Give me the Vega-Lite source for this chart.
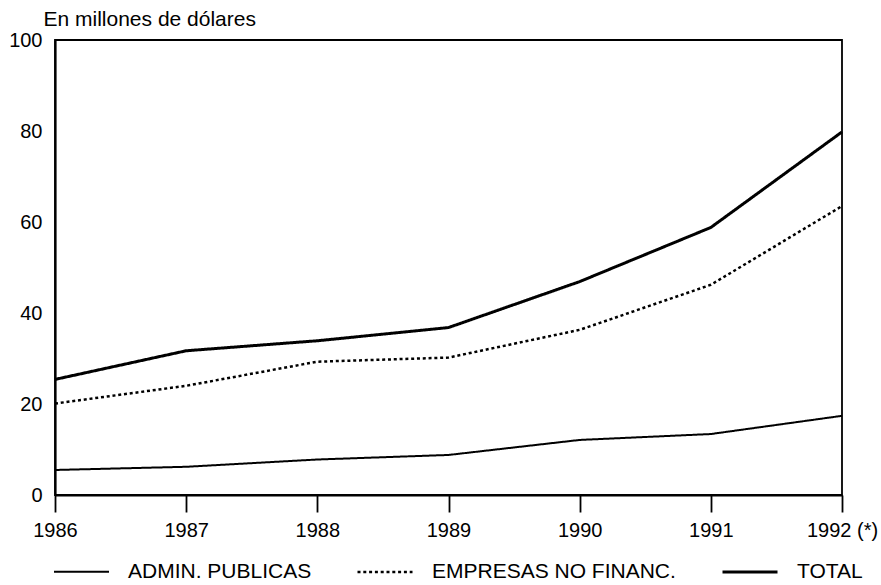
{
  "$schema": "https://vega.github.io/schema/vega-lite/v6.json",
  "width": 787,
  "height": 455,
  "autosize": {"type": "none"},
  "padding": {"left": 55, "top": 40, "right": 39, "bottom": 90},
  "background": "white",
  "config": {
    "view": {"stroke": "black", "strokeWidth": 1.8},
    "font": "Liberation Sans"
  },
  "data": {
    "values": [
      {"year": 1986, "series": "ADMIN. PUBLICAS", "value": 5.5},
      {"year": 1987, "series": "ADMIN. PUBLICAS", "value": 6.2},
      {"year": 1988, "series": "ADMIN. PUBLICAS", "value": 7.8},
      {"year": 1989, "series": "ADMIN. PUBLICAS", "value": 8.8},
      {"year": 1990, "series": "ADMIN. PUBLICAS", "value": 12.1},
      {"year": 1991, "series": "ADMIN. PUBLICAS", "value": 13.4},
      {"year": 1992, "series": "ADMIN. PUBLICAS", "value": 17.4},
      {"year": 1986, "series": "EMPRESAS NO FINANC.", "value": 20.1},
      {"year": 1987, "series": "EMPRESAS NO FINANC.", "value": 24.0},
      {"year": 1988, "series": "EMPRESAS NO FINANC.", "value": 29.3},
      {"year": 1989, "series": "EMPRESAS NO FINANC.", "value": 30.2},
      {"year": 1990, "series": "EMPRESAS NO FINANC.", "value": 36.3},
      {"year": 1991, "series": "EMPRESAS NO FINANC.", "value": 46.2},
      {"year": 1992, "series": "EMPRESAS NO FINANC.", "value": 63.5},
      {"year": 1986, "series": "TOTAL", "value": 25.4},
      {"year": 1987, "series": "TOTAL", "value": 31.7},
      {"year": 1988, "series": "TOTAL", "value": 33.9},
      {"year": 1989, "series": "TOTAL", "value": 36.8},
      {"year": 1990, "series": "TOTAL", "value": 46.9},
      {"year": 1991, "series": "TOTAL", "value": 58.8},
      {"year": 1992, "series": "TOTAL", "value": 79.8}
    ]
  },
  "mark": {"type": "line", "color": "black", "strokeCap": "butt", "strokeJoin": "round"},
  "encoding": {
    "x": {
      "field": "year",
      "type": "quantitative",
      "scale": {"domain": [1986, 1992], "nice": false, "zero": false},
      "axis": {
        "values": [1986, 1987, 1988, 1989, 1990, 1991, 1992],
        "format": "d",
        "labelExpr": "datum.value == 1992 ? '1992 (*)' : datum.label",
        "title": null,
        "grid": false,
        "tickSize": 17,
        "tickWidth": 1.8,
        "tickColor": "black",
        "domainColor": "black",
        "domainWidth": 2,
        "labelPadding": 8,
        "labelFontSize": 20,
        "labelFont": "Liberation Sans",
        "labelColor": "black",
        "labelFlush": false,
        "labelOverlap": false
      }
    },
    "y": {
      "field": "value",
      "type": "quantitative",
      "scale": {"domain": [0, 100], "nice": false},
      "axis": {
        "values": [0, 20, 40, 60, 80, 100],
        "title": "En millones de dólares",
        "titleAngle": 0,
        "titleX": -12,
        "titleY": -15,
        "titleAlign": "left",
        "titleBaseline": "alphabetic",
        "titleFontSize": 21,
        "titleFontWeight": "normal",
        "titleFont": "Liberation Sans",
        "titleColor": "black",
        "ticks": false,
        "labelPadding": 13,
        "labelFontSize": 20,
        "labelFont": "Liberation Sans",
        "labelColor": "black",
        "grid": false,
        "domainColor": "black",
        "domainWidth": 2.2
      }
    },
    "strokeDash": {
      "field": "series",
      "type": "ordinal",
      "scale": {
        "domain": ["ADMIN. PUBLICAS", "EMPRESAS NO FINANC.", "TOTAL"],
        "range": [[1, 0], [3, 2.8], [1, 0]]
      },
      "legend": {
        "orient": "none",
        "legendX": -2,
        "legendY": 503,
        "direction": "horizontal",
        "title": null,
        "symbolType": "stroke",
        "symbolSize": 3025,
        "symbolStrokeColor": "black",
        "labelFontSize": 21,
        "labelFont": "Liberation Sans",
        "labelColor": "black",
        "labelOffset": 18,
        "columnPadding": 40,
        "labelLimit": 400
      }
    },
    "strokeWidth": {
      "field": "series",
      "type": "ordinal",
      "scale": {
        "domain": ["ADMIN. PUBLICAS", "EMPRESAS NO FINANC.", "TOTAL"],
        "range": [2, 3, 4.5]
      },
      "legend": {
        "orient": "none",
        "legendX": -2,
        "legendY": 503,
        "direction": "horizontal",
        "title": null,
        "symbolType": "stroke",
        "symbolSize": 3025,
        "symbolStrokeColor": "black",
        "labelFontSize": 21,
        "labelFont": "Liberation Sans",
        "labelColor": "black",
        "labelOffset": 18,
        "columnPadding": 40,
        "labelLimit": 400
      }
    }
  }
}
